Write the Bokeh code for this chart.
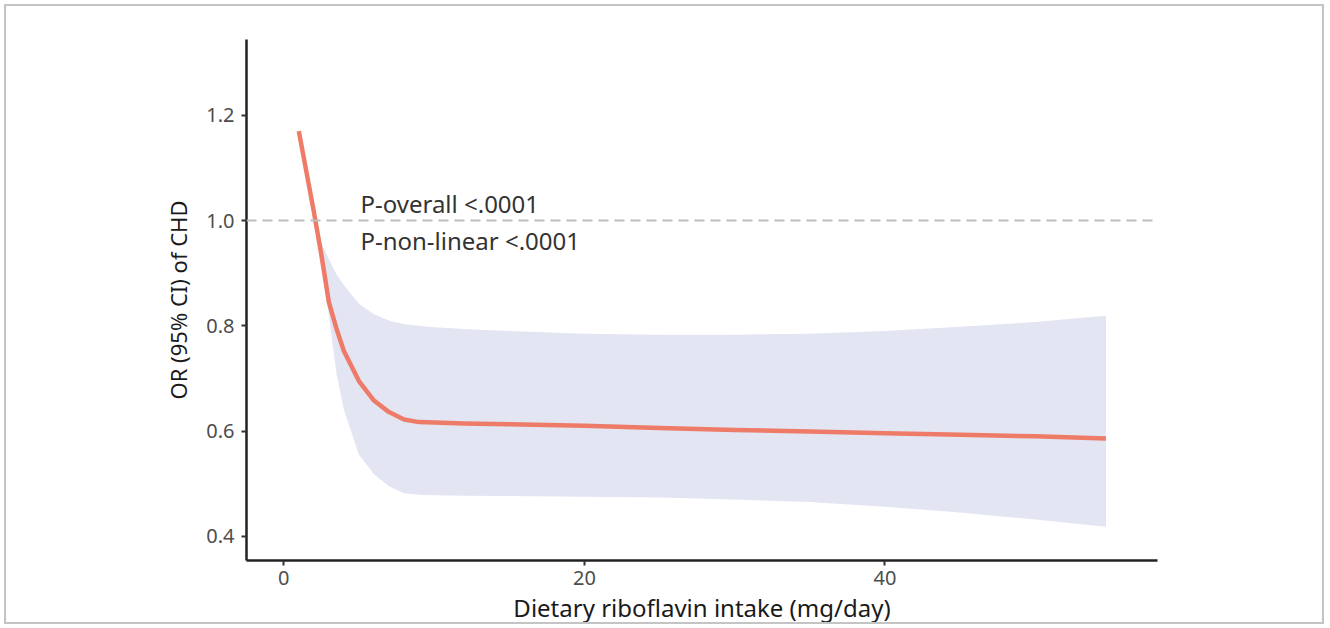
from bokeh.plotting import figure
from bokeh.models import Range1d, FixedTicker, Span, ColumnDataSource, Label
from bokeh.embed import file_html
from bokeh.resources import INLINE

# Data
intake = [1, 2, 2.5, 3, 3.5, 4, 5, 6, 7, 8, 9, 10, 12, 15, 20, 25, 30, 35, 40, 45, 50, 54.7]
odds_ratio = [1.17, 1.017, 0.935, 0.845, 0.795, 0.752, 0.695, 0.658, 0.636, 0.622, 0.617, 0.616,
              0.6145, 0.613, 0.610, 0.606, 0.602, 0.599, 0.596, 0.593, 0.590, 0.586]
ci_upper = [1.175, 1.025, 0.957, 0.927, 0.898, 0.877, 0.842, 0.822, 0.810, 0.803, 0.800, 0.797,
            0.794, 0.790, 0.785, 0.783, 0.783, 0.785, 0.790, 0.798, 0.807, 0.819]
ci_lower = [1.165, 1.005, 0.915, 0.82, 0.71, 0.64, 0.555, 0.518, 0.495, 0.482, 0.479, 0.478,
            0.477, 0.4765, 0.475, 0.4735, 0.470, 0.465, 0.456, 0.445, 0.432, 0.418]
x_ticks = [0, 20, 40]
y_ticks = [0.4, 0.6, 0.8, 1.0, 1.2]
annotations = ["P-overall <.0001", "P-non-linear <.0001"]
annotation_y = [1.033, 0.963]

FONT = "Noto Sans"

p = figure(width=1320, height=620, output_backend="svg", toolbar_location=None,
           x_range=Range1d(-2.48, 58.13), y_range=Range1d(0.354, 1.344),
           min_border_left=240, min_border_right=169, min_border_top=33, min_border_bottom=66)
p.margin = (4, 0, 0, 4)
p.styles = {"border": "2px solid #c4c4c4"}
p.outline_line_color = None
p.grid.visible = False
p.background_fill_color = "white"
p.border_fill_color = "white"

src = ColumnDataSource(dict(x=intake, y=odds_ratio, lo=ci_lower, hi=ci_upper))
p.varea(x="x", y1="lo", y2="hi", source=src, fill_color="#E3E5F3", fill_alpha=1)
p.line(x="x", y="y", source=src, line_color="#EE7560", line_width=4.5, line_alpha=0.95,
       line_join="round")

p.add_layout(Span(location=1.0, dimension="width", line_color="#BDBDBD",
                  line_dash="10 6", line_width=2))

for txt, yy in zip(annotations, annotation_y):
    p.add_layout(Label(x=5.1, y=yy, text=txt, text_font=FONT, text_font_size="24px",
                       text_color="#333333", text_baseline="middle", text_align="left"))

for ax in (p.xaxis[0], p.yaxis[0]):
    ax.axis_line_color = "#222222"
    ax.axis_line_width = 2.5
    ax.major_tick_line_color = "#333333"
    ax.major_tick_line_width = 2
    ax.major_tick_out = 5
    ax.major_tick_in = 0
    ax.minor_tick_line_color = None
    ax.major_label_text_font = FONT
    ax.major_label_text_font_size = "20px"
    ax.major_label_text_color = "#4D4D4D"
    ax.axis_label_text_font = FONT
    ax.axis_label_text_font_style = "normal"
    ax.axis_label_text_color = "#1A1A1A"

p.xaxis.axis_label_text_font_size = "24px"
p.yaxis.axis_label_text_font_size = "22px"
p.xaxis.ticker = FixedTicker(ticks=x_ticks)
p.yaxis.ticker = FixedTicker(ticks=y_ticks)
p.xaxis.major_label_overrides = {t: str(t) for t in x_ticks}
p.yaxis.major_label_overrides = {t: f"{t:.1f}" for t in y_ticks}
p.xaxis.axis_label = "Dietary riboflavin intake (mg/day)"
p.yaxis.axis_label = "OR (95% CI) of CHD"
p.xaxis.major_label_standoff = 5
p.yaxis.major_label_standoff = 7
p.xaxis.axis_label_standoff = 3
p.yaxis.axis_label_standoff = 10

open("out.html", "w").write(file_html(p, INLINE))
